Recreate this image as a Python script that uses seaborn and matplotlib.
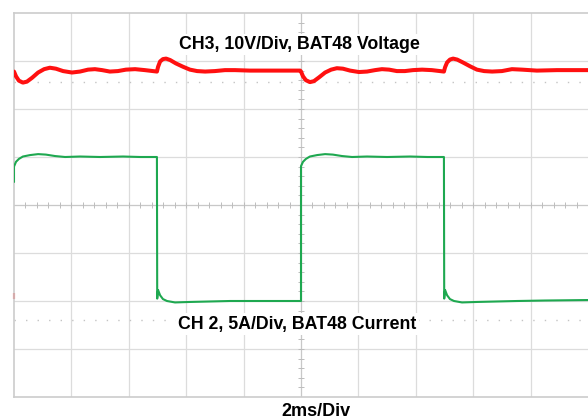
import matplotlib
matplotlib.use("Agg")
import matplotlib.pyplot as plt
import numpy as np
import seaborn as sns

# scope screen: time in ms (2 ms/div), trace position in divisions (0 = centre)
red_t = [0.00, 0.07, 0.17, 0.31, 0.45, 0.63, 0.84, 1.05, 1.25, 1.46,
         1.71, 2.02, 2.30, 2.58, 2.82, 3.07, 3.34, 3.62, 3.90, 4.22,
         4.56, 4.98, 5.02, 5.09, 5.19, 5.30, 5.44, 5.64, 5.89, 6.13,
         6.38, 6.66, 7.00, 7.35, 7.70, 8.22, 8.92, 9.62, 9.97,
         10.00, 10.07, 10.17, 10.31, 10.45, 10.63, 10.84, 11.05, 11.25, 11.46,
         11.71, 12.02, 12.30, 12.58, 12.82, 13.07, 13.34, 13.62, 13.90, 14.22,
         14.56, 14.98, 15.02, 15.09, 15.19, 15.30, 15.44, 15.64, 15.89, 16.13,
         16.38, 16.66, 17.00, 17.35, 17.70, 18.22, 18.92, 19.62, 20.00]
red_div = [2.78, 2.68, 2.59, 2.55, 2.57, 2.65, 2.76, 2.83, 2.86, 2.84,
           2.79, 2.76, 2.78, 2.82, 2.83, 2.81, 2.78, 2.79, 2.82, 2.83,
           2.81, 2.78, 2.88, 2.99, 3.04, 3.05, 3.02, 2.95, 2.88, 2.82,
           2.79, 2.78, 2.79, 2.81, 2.81, 2.80, 2.80, 2.80, 2.80,
           2.78, 2.68, 2.60, 2.56, 2.58, 2.66, 2.76, 2.82, 2.85, 2.84,
           2.80, 2.77, 2.78, 2.81, 2.83, 2.82, 2.79, 2.79, 2.81, 2.82,
           2.81, 2.78, 2.87, 2.97, 3.03, 3.05, 3.03, 2.97, 2.89, 2.82,
           2.79, 2.78, 2.79, 2.83, 2.82, 2.80, 2.81, 2.81, 2.81]

grn_t = [0.00, 0.00, 0.07, 0.17, 0.31, 0.56, 0.84, 1.11, 1.43, 1.78,
         2.30, 3.00, 3.80, 4.40, 4.98, 4.99, 5.02, 5.09, 5.19, 5.33,
         5.61, 6.13, 7.53, 8.50, 9.99,
         10.00, 10.00, 10.07, 10.17, 10.31, 10.56, 10.84, 11.11, 11.43, 11.78,
         12.30, 13.00, 13.80, 14.40, 14.98, 14.99, 15.02, 15.09, 15.19, 15.33,
         15.61, 16.13, 17.53, 18.50, 20.00]
grn_div = [0.48, 0.80, 0.90, 0.96, 1.01, 1.04, 1.06, 1.05, 1.02, 1.00,
           1.01, 1.00, 1.01, 1.00, 1.00, -1.95, -1.77, -1.88, -1.96, -2.00,
           -2.03, -2.02, -2.00, -2.00, -2.00,
           -2.00, 0.81, 0.90, 0.96, 1.01, 1.04, 1.06, 1.05, 1.02, 1.00,
           1.01, 1.00, 1.01, 1.00, 1.00, -1.95, -1.77, -1.88, -1.96, -2.00,
           -2.03, -2.02, -2.00, -1.99, -1.98]

cursor_levels = [2.57, -2.40]
ch3_marker = -1.9

label_ch3 = "CH3, 10V/Div, BAT48 Voltage"
label_ch2 = "CH 2, 5A/Div, BAT48 Current"
label_time = "2ms/Div"

sns.set_theme(style="white")
plt.rcParams['font.family'] = ['Liberation Sans', 'DejaVu Sans']

fig = plt.figure(figsize=(5.88, 4.2), dpi=100)
ax = fig.add_axes([14 / 588, 23 / 420, 574 / 588, 384 / 420])
ax.set_xlim(0, 20)
ax.set_ylim(-4, 4)

# graticule
grid_c = "#dcdcdc"
for x in np.arange(2, 20, 2):
    ax.axvline(x, color=grid_c, lw=0.9, zorder=0)
for y in np.arange(-3, 4, 1):
    ax.axhline(y, color=grid_c, lw=0.9, zorder=0)
ax.axhline(0, color="#c8c8c8", lw=0.8, zorder=0)
ax.axvline(10, color="#c8c8c8", lw=0.8, zorder=0)
ax.vlines(np.arange(0.4, 20, 0.4), -0.06, 0.06, color="#bdbdbd", lw=0.7, zorder=0)
ax.hlines(np.arange(-3.8, 4, 0.2), 9.88, 10.12, color="#bdbdbd", lw=0.7, zorder=0)
for lvl in cursor_levels:
    ax.axhline(lvl, color="#c4c4c4", lw=1.0, ls=(0, (1.0, 7.3)), zorder=0)

for side in ["top", "left", "bottom"]:
    ax.spines[side].set_color("#cccccc")
    ax.spines[side].set_linewidth(1.2)
ax.spines["right"].set_visible(False)
ax.set_xticks([])
ax.set_yticks([])

# traces
sns.lineplot(x=red_t, y=red_div, estimator=None, sort=False, color="#ff1010",
             lw=2.9, ax=ax, zorder=3)
sns.lineplot(x=grn_t, y=grn_div, estimator=None, sort=False, color="#1ea850",
             lw=1.5, ax=ax, zorder=3)
ax.plot([0], [ch3_marker], marker="|", ms=5, mew=1.5, color="#ff1010", clip_on=False)

box = dict(facecolor="white", edgecolor="none", pad=1.5)
ax.text(9.95, 3.34, label_ch3, ha="center", va="center", fontsize=12.8,
        fontweight="bold", color="black", bbox=box, zorder=4)
ax.text(9.88, -2.48, label_ch2, ha="center", va="center", fontsize=12.8,
        fontweight="bold", color="black", bbox=box, zorder=4)
fig.text(316 / 588, 1 - 411 / 420, label_time, ha="center", va="center",
         fontsize=13, fontweight="bold", color="black")

fig.savefig("out.png", dpi=100, facecolor="white")
